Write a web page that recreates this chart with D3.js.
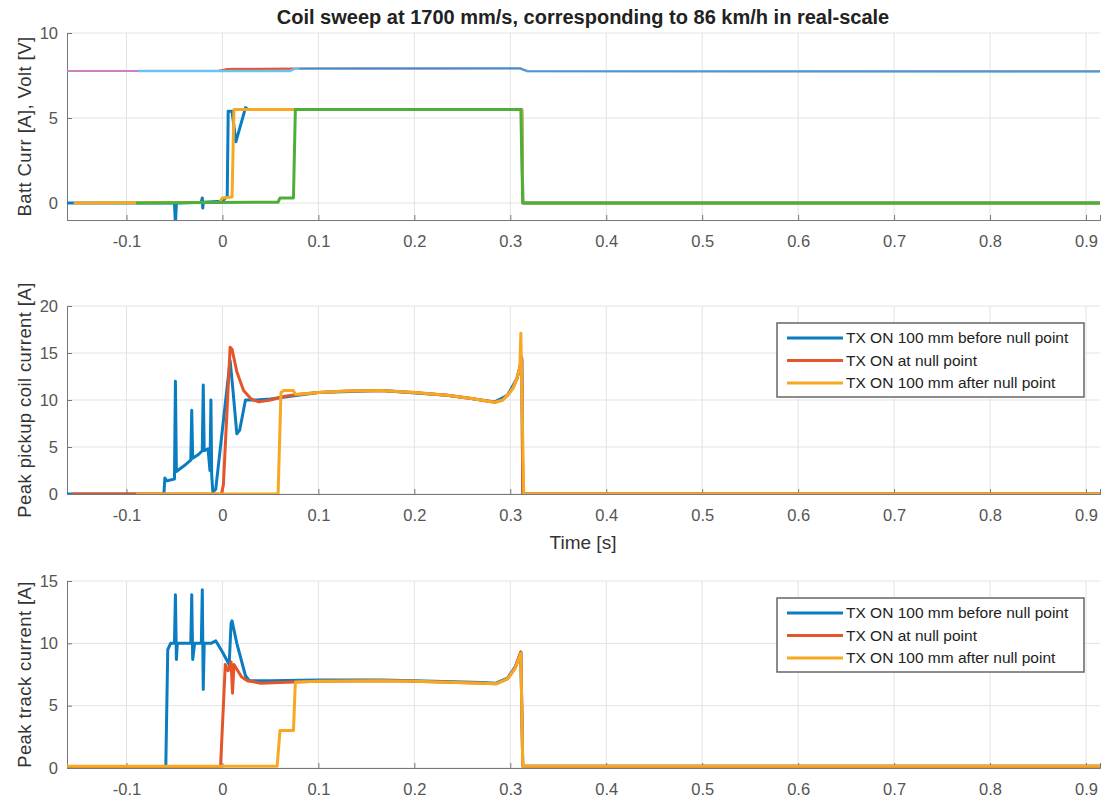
<!DOCTYPE html>
<html>
<head>
<meta charset="utf-8">
<script src="https://cdn.jsdelivr.net/npm/d3@7"></script>
<style>
  body { margin: 0; background: #fff; }
  svg { font-family: "Liberation Sans", Arial, sans-serif; }
</style>
</head>
<body>
<div id="chart"></div>
<script>
// x ticks shared by all three panels
const xTicks = [-0.1, 0, 0.1, 0.2, 0.3, 0.4, 0.5, 0.6, 0.7, 0.8, 0.9];
const seriesNames = ["TX ON 100 mm before null point", "TX ON at null point", "TX ON 100 mm after null point"];

// top panel: battery voltage traces [t, V]
const voltPurple = [[-0.162, 7.77], [-0.088, 7.77], [0.0, 7.76], [0.01, 7.9], [0.31, 7.92], [0.318, 7.76], [0.915, 7.75]];
const voltRed = [[-0.088, 7.77], [-0.005, 7.76], [0.005, 7.88], [0.1, 7.91], [0.31, 7.93], [0.318, 7.76], [0.915, 7.75]];
const voltLightBlue = [[-0.088, 7.76], [0.07, 7.76], [0.076, 7.9], [0.31, 7.92], [0.318, 7.75], [0.915, 7.74]];
const voltBlue = [[0.08, 7.91], [0.31, 7.92], [0.318, 7.75], [0.915, 7.75]];

// top panel: battery current traces [t, A]
const battBlue = [[-0.162, 0], [-0.05, 0], [-0.049, -1.3], [-0.048, 0], [-0.022, 0.05], [-0.021, 0.3], [-0.0205, -0.3],
  [-0.02, 0.05], [0.0, 0.1], [0.005, 0.4], [0.006, 5.4], [0.01, 5.4], [0.014, 3.6], [0.024, 5.6], [0.027, 5.5],
  [0.312, 5.5], [0.313, 0], [0.915, 0]];
const battYellow = [[-0.155, 0], [-0.003, 0.05], [0.0, 0.3], [0.01, 0.35], [0.012, 5.5], [0.312, 5.5], [0.313, 0], [0.915, 0]];
const battGreen = [[-0.09, 0], [0.04, 0.05], [0.058, 0.05], [0.06, 0.3], [0.074, 0.3], [0.076, 5.5], [0.311, 5.5], [0.313, 0], [0.915, 0]];

// middle panel: peak pickup coil current [t, A]
const pickupBlue = [[-0.162, 0], [-0.061, 0], [-0.06, 1.7], [-0.058, 1.4], [-0.05, 1.6], [-0.049, 12.0], [-0.048, 2.4],
  [-0.04, 3.0], [-0.033, 3.6], [-0.032, 8.9], [-0.031, 3.8], [-0.025, 4.2], [-0.021, 4.6], [-0.02, 11.6], [-0.019, 4.6],
  [-0.015, 4.8], [-0.013, 2.5], [-0.012, 10.0], [-0.0112, 2.0], [-0.01, 0.2], [-0.007, 0.5], [0.008, 14.2], [0.011, 11.0],
  [0.015, 6.4], [0.018, 6.8], [0.024, 10.0], [0.035, 10.0], [0.05, 10.1], [0.1, 10.8], [0.165, 11.0], [0.234, 10.5],
  [0.284, 9.8], [0.297, 10.5], [0.307, 12.3], [0.312, 14.3], [0.313, 0], [0.915, 0]];
const pickupRed = [[-0.157, 0], [-0.001, 0], [0.001, 1.0], [0.008, 15.6], [0.01, 15.4], [0.015, 13.0], [0.022, 11.0],
  [0.03, 10.1], [0.038, 9.8], [0.05, 10.0], [0.065, 10.4], [0.08, 10.6], [0.1, 10.8], [0.13, 10.95], [0.165, 11.0],
  [0.2, 10.8], [0.234, 10.5], [0.26, 10.15], [0.275, 9.9], [0.284, 9.75], [0.292, 10.0], [0.297, 10.5], [0.303, 11.3],
  [0.307, 12.3], [0.31, 13.5], [0.312, 14.5], [0.313, 0], [0.915, 0]];
const pickupYellow = [[-0.09, 0], [0.058, 0], [0.061, 10.8], [0.064, 11.0], [0.074, 11.0], [0.076, 10.6], [0.08, 10.6],
  [0.1, 10.8], [0.13, 10.95], [0.165, 11.0], [0.2, 10.8], [0.234, 10.5], [0.26, 10.15], [0.275, 9.9], [0.284, 9.75],
  [0.292, 10.0], [0.297, 10.5], [0.303, 11.3], [0.307, 12.3], [0.31, 13.5], [0.311, 17.1], [0.314, 0], [0.915, 0]];

// bottom panel: peak track current [t, A]
const trackBlue = [[-0.162, 0.1], [-0.06, 0.1], [-0.059, 0.2], [-0.057, 9.5], [-0.054, 10.0], [-0.05, 10.0], [-0.049, 13.9],
  [-0.048, 8.7], [-0.047, 10.0], [-0.033, 10.0], [-0.032, 13.9], [-0.031, 8.7], [-0.029, 10.0], [-0.022, 10.0],
  [-0.021, 14.3], [-0.02, 6.3], [-0.019, 10.0], [-0.012, 10.0], [-0.007, 10.2], [0.0, 9.3], [0.007, 8.3], [0.009, 11.6],
  [0.01, 11.8], [0.015, 10.0], [0.024, 7.4], [0.028, 7.0], [0.05, 7.0], [0.1, 7.05], [0.165, 7.05], [0.2, 7.0],
  [0.27, 6.85], [0.285, 6.8], [0.297, 7.2], [0.305, 8.1], [0.311, 9.3], [0.313, 0.15], [0.915, 0.15]];
const trackRed = [[-0.157, 0.1], [-0.002, 0.1], [0.003, 8.3], [0.006, 7.8], [0.009, 8.5], [0.0105, 6.0], [0.012, 8.3],
  [0.02, 7.3], [0.026, 7.0], [0.04, 6.8], [0.06, 6.85], [0.1, 6.95], [0.165, 7.0], [0.2, 6.95], [0.27, 6.8],
  [0.285, 6.75], [0.297, 7.15], [0.305, 8.0], [0.311, 9.3], [0.313, 0.15], [0.915, 0.15]];
const trackYellow = [[-0.162, 0.15], [0.057, 0.15], [0.06, 3.0], [0.074, 3.0], [0.076, 6.9], [0.1, 6.95], [0.165, 7.0],
  [0.2, 6.95], [0.27, 6.8], [0.285, 6.75], [0.297, 7.15], [0.305, 8.0], [0.311, 9.2], [0.313, 0.15], [0.915, 0.15]];

const colors = { blue: "#0a7dc2", red: "#e5552a", yellow: "#f6a820", green: "#4caf3a",
  purple: "#c783c4", lightBlue: "#6cc3ee", midBlue: "#5a80c4" };

const W = 1103, H = 802;
const left = 67, right = 1100;

const svg = d3.select("#chart").append("svg")
  .attr("width", W)
  .attr("height", H);

const x = d3.scaleLinear()
  .domain([-0.162, 0.9146])
  .range([left, right]);

// hyphen minus like the original, not the unicode minus
const fmt = d => String(d);

svg.append("text")
  .attr("x", 583)
  .attr("y", 24)
  .attr("text-anchor", "middle")
  .style("font-size", "20px")
  .style("font-weight", "bold")
  .style("fill", "#222")
  .text("Coil sweep at 1700 mm/s, corresponding to 86 km/h in real-scale");

function panel(top, bottom, yDomain, yTicks, yLabel, lines, id) {
  const y = d3.scaleLinear().domain(yDomain).range([bottom, top]);
  const g = svg.append("g");

  g.append("clipPath").attr("id", id)
    .append("rect")
    .attr("x", left).attr("y", top)
    .attr("width", right - left).attr("height", bottom - top);

  // grid
  g.selectAll(".vgrid").data(xTicks).enter().append("line")
    .attr("x1", d => x(d)).attr("x2", d => x(d))
    .attr("y1", top).attr("y2", bottom)
    .attr("stroke", "#e3e3e3").attr("stroke-width", 1);
  g.selectAll(".hgrid").data(yTicks).enter().append("line")
    .attr("x1", left).attr("x2", right)
    .attr("y1", d => y(d)).attr("y2", d => y(d))
    .attr("stroke", "#e3e3e3").attr("stroke-width", 1);

  // axes, ticks pointing inwards
  g.append("g")
    .attr("transform", `translate(0,${bottom})`)
    .call(d3.axisBottom(x).tickValues(xTicks).tickSize(-5).tickPadding(15).tickFormat(fmt))
    .call(a => a.select(".domain").attr("stroke", "#777"))
    .call(a => a.selectAll(".tick line").attr("stroke", "#777"))
    .call(a => a.selectAll("text").style("font-size", "16.5px").style("fill", "#555").attr("font-family", null));

  g.append("g")
    .attr("transform", `translate(${left},0)`)
    .call(d3.axisLeft(y).tickValues(yTicks).tickSize(-5).tickPadding(9).tickFormat(fmt))
    .call(a => a.select(".domain").attr("stroke", "#777"))
    .call(a => a.selectAll(".tick line").attr("stroke", "#777"))
    .call(a => a.selectAll("text").style("font-size", "16.5px").style("fill", "#555").attr("font-family", null));

  g.append("text")
    .attr("transform", `translate(31,${(top + bottom) / 2}) rotate(-90)`)
    .attr("text-anchor", "middle")
    .style("font-size", "18.5px")
    .style("letter-spacing", "0.4px")
    .style("fill", "#333")
    .text(yLabel);

  const line = d3.line()
    .x(d => x(d[0]))
    .y(d => y(d[1]));

  const plot = g.append("g").attr("clip-path", `url(#${id})`);
  lines.forEach(l => {
    plot.append("path")
      .datum(l.data)
      .attr("fill", "none")
      .attr("stroke", l.color)
      .attr("stroke-width", l.width)
      .attr("stroke-linejoin", "round")
      .attr("d", line);
  });
  return { g, y };
}

panel(33, 220, [-1, 10], [0, 5, 10], "Batt Curr [A], Volt [V]", [
  { data: voltPurple, color: colors.purple, width: 2 },
  { data: voltRed, color: colors.red, width: 2 },
  { data: voltLightBlue, color: colors.lightBlue, width: 2.5 },
  { data: voltBlue, color: colors.midBlue, width: 1.2 },
  { data: battBlue, color: colors.blue, width: 3 },
  { data: battYellow, color: colors.yellow, width: 3 },
  { data: battGreen, color: colors.green, width: 3 }
], "clip1");

const p2 = panel(306, 494, [0, 20], [0, 5, 10, 15, 20], "Peak pickup coil current [A]", [
  { data: pickupBlue, color: colors.blue, width: 3 },
  { data: pickupRed, color: colors.red, width: 3 },
  { data: pickupYellow, color: colors.yellow, width: 3 }
], "clip2");

const p3 = panel(581, 768, [0, 15], [0, 5, 10, 15], "Peak track current [A]", [
  { data: trackBlue, color: colors.blue, width: 3 },
  { data: trackRed, color: colors.red, width: 3 },
  { data: trackYellow, color: colors.yellow, width: 3 }
], "clip3");

svg.append("text")
  .attr("x", 583)
  .attr("y", 549)
  .attr("text-anchor", "middle")
  .style("font-size", "19px")
  .style("fill", "#333")
  .text("Time [s]");

// legends
function legend(g, x0, y0) {
  const lg = g.append("g").attr("transform", `translate(${x0},${y0})`);
  lg.append("rect")
    .attr("width", 307).attr("height", 74)
    .attr("fill", "#fff")
    .attr("stroke", "#666").attr("stroke-width", 1.5);
  const cols = [colors.blue, colors.red, colors.yellow];
  seriesNames.forEach((name, i) => {
    const yy = 15 + i * 22.5;
    lg.append("line")
      .attr("x1", 10).attr("x2", 66)
      .attr("y1", yy).attr("y2", yy)
      .attr("stroke", cols[i]).attr("stroke-width", 3);
    lg.append("text")
      .attr("x", 69).attr("y", yy)
      .attr("dy", "0.35em")
      .style("font-size", "15.5px")
      .style("fill", "#222")
      .text(name);
  });
}
legend(p2.g, 777, 323);
legend(p3.g, 777, 598);
</script>
</body>
</html>
